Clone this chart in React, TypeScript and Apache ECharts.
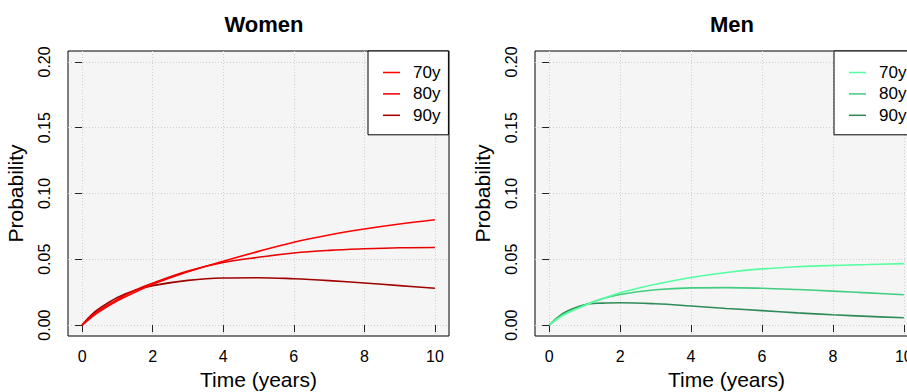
import React, { useEffect, useRef } from "react";
import * as echarts from "echarts";

const times = [0, 0.25, 0.5, 1, 1.5, 2, 3, 4, 5, 6, 7, 8, 9, 10];
const ageGroups = ["70y", "80y", "90y"];

const women70 = [0, 0.0055, 0.0105, 0.0185, 0.025, 0.031, 0.0405, 0.0485, 0.056, 0.0630, 0.0685, 0.0730, 0.0768, 0.080];
const women80 = [0, 0.0065, 0.0115, 0.0195, 0.0265, 0.0318, 0.0410, 0.0475, 0.0515, 0.0548, 0.0568, 0.058, 0.0588, 0.059];
const women90 = [0, 0.0075, 0.0128, 0.021, 0.0265, 0.0300, 0.0340, 0.0358, 0.0360, 0.0352, 0.0338, 0.032, 0.030, 0.028];

const men70 = [0, 0.005, 0.009, 0.0148, 0.020, 0.0245, 0.031, 0.0362, 0.040, 0.0427, 0.0443, 0.0453, 0.046, 0.0467];
const men80 = [0, 0.0055, 0.0095, 0.0152, 0.020, 0.0233, 0.0268, 0.0283, 0.0285, 0.0280, 0.0270, 0.0258, 0.0245, 0.023];
const men90 = [0, 0.006, 0.0105, 0.0155, 0.0167, 0.0170, 0.0162, 0.0145, 0.0126, 0.0110, 0.0093, 0.0078, 0.0066, 0.0056];

const xTicks = [0, 2, 4, 6, 8, 10];
const yTicks = [0, 0.05, 0.1, 0.15, 0.2];

const womenColors = ["#FF0000", "#E80000", "#A00000"];
const menColors = ["#54FF9F", "#43CD80", "#2E8B57"];

const FONT = "'Liberation Sans', Arial, Helvetica, sans-serif";

export default function App() {
  const ref = useRef<HTMLDivElement>(null);
  useEffect(() => {
    if (!ref.current) return;
    const chart = echarts.init(ref.current, null, { renderer: "svg" });
    const pair = (vals: number[]) => times.map((t, i) => [t, vals[i]]);
    const grids = [
      { left: 68, top: 51, width: 381, height: 285 },
      { left: 535, top: 51, width: 383, height: 285 },
    ];
    const mkX = (gi: number) => ({
      type: "value",
      gridIndex: gi,
      min: -0.4,
      max: 10.4,
      name: "Time (years)",
      nameLocation: "middle",
      nameGap: 33,
      nameTextStyle: { fontFamily: FONT, fontSize: 21, color: "#000" },
      axisLine: { show: false },
      axisTick: {
        show: true,
        inside: false,
        length: 7,
        customValues: xTicks,
        lineStyle: { color: "#222" },
      },
      axisLabel: {
        customValues: xTicks,
        margin: 12,
        fontFamily: FONT,
        fontSize: 16,
        color: "#000",
      },
      splitLine: {
        show: true,
        lineStyle: { color: "#cfcfcf", type: [1, 2], width: 1 },
      },
    });
    const mkY = (gi: number) => ({
      type: "value",
      gridIndex: gi,
      min: -0.0083,
      max: 0.2083,
      name: "Probability",
      nameLocation: "middle",
      nameGap: 42,
      nameRotate: 90,
      nameTextStyle: { fontFamily: FONT, fontSize: 21, color: "#000" },
      axisLine: { show: false },
      axisTick: {
        show: true,
        inside: false,
        length: 7,
        customValues: yTicks,
        lineStyle: { color: "#222" },
      },
      axisLabel: {
        customValues: yTicks,
        rotate: 90,
        margin: 16,
        fontFamily: FONT,
        fontSize: 16,
        color: "#000",
        formatter: (v: number) => v.toFixed(2),
      },
      splitLine: {
        show: true,
        lineStyle: { color: "#cfcfcf", type: [1, 2], width: 1 },
      },
    });
    const groups = [
      { label: "Women", colors: womenColors, data: [women70, women80, women90] },
      { label: "Men", colors: menColors, data: [men70, men80, men90] },
    ];
    const series: any[] = [];
    groups.forEach((g, gi) => {
      ageGroups.forEach((a, ai) => {
        series.push({
          type: "line",
          name: g.label + " " + a,
          xAxisIndex: gi,
          yAxisIndex: gi,
          data: pair(g.data[ai]),
          smooth: 0.4,
          symbol: "none",
          color: g.colors[ai],
          lineStyle: { width: 1.6, color: g.colors[ai] },
          z: 10 - ai,
        });
      });
    });
    const legendBase = {
      orient: "vertical",
      top: 51,
      itemWidth: 17,
      itemHeight: 14,
      itemGap: 4.4,
      icon: "path://M0,0H100V9H0Z",
      backgroundColor: "#fff",
      borderColor: "#000",
      borderWidth: 1,
      borderRadius: 0,
      padding: [13, 8, 11, 15],
      textStyle: {
        fontFamily: FONT,
        fontSize: 17,
        color: "#000",
        padding: [0, 0, 0, 8],
      },
      formatter: (n: string) => n.split(" ")[1],
      selectedMode: false,
      z: 20,
    };
    chart.setOption({
      animation: false,
      backgroundColor: "#fff",
      title: [
        {
          text: "Women",
          left: 259,
          top: 8,
          textAlign: "center",
          textStyle: { fontFamily: FONT, fontSize: 22, fontWeight: "bold", color: "#000" },
        },
        {
          text: "Men",
          left: 727,
          top: 8,
          textAlign: "center",
          textStyle: { fontFamily: FONT, fontSize: 22, fontWeight: "bold", color: "#000" },
        },
      ],
      grid: grids.map((g) => ({
        ...g,
        show: true,
        backgroundColor: "#f5f5f5",
        borderColor: "#000",
        borderWidth: 1,
        containLabel: false,
        outerBoundsMode: "none",
      })),
      xAxis: [mkX(0), mkX(1)],
      yAxis: [mkY(0), mkY(1)],
      legend: [
        { ...legendBase, left: 368, data: ageGroups.map((a) => "Women " + a) },
        { ...legendBase, left: 834, data: ageGroups.map((a) => "Men " + a) },
      ],
      series,
    });
    return () => chart.dispose();
  }, []);
  return (
    <div
      ref={ref}
      style={{ position: "fixed", left: 0, top: 0, width: 907, height: 392 }}
    />
  );
}
